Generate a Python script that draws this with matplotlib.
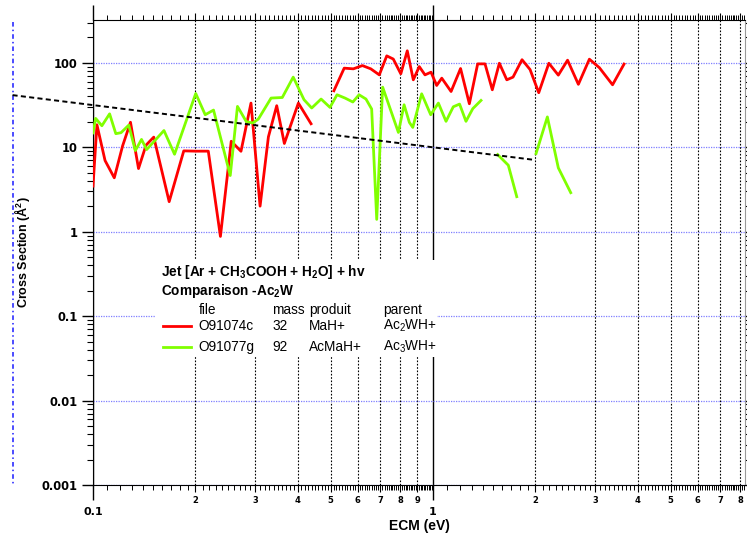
import numpy as np
import matplotlib
matplotlib.use('Agg')
import matplotlib.pyplot as plt
from matplotlib.lines import Line2D
from matplotlib.patches import Rectangle
from matplotlib.ticker import NullLocator

plt.rcParams['font.family'] = ['Liberation Sans', 'DejaVu Sans']
plt.rcParams['mathtext.default'] = 'regular'

nan = np.nan

# ---- data (ECM in eV, cross section in A^2); NaN separates segments ----
red_x = [0.100, 0.1027, 0.1085, 0.1155, 0.1222, 0.1289, 0.1361, 0.1432, 0.1509, 0.1675,
         0.1849, 0.201, 0.2183, 0.237, 0.255, 0.2724, 0.2915, 0.310, 0.328, 0.347,
         0.3654, 0.4018, 0.4378, nan,
         0.511, 0.548, 0.583, 0.620, 0.656, 0.695, 0.731, 0.764, 0.804, 0.840,
         0.875, 0.911, 0.947, 0.9865, 1.025, 1.061, 1.13, 1.205, 1.279, 1.353,
         1.422, 1.494, 1.567, 1.648, 1.719, 1.827, 1.929, 2.046, 2.191, 2.336,
         2.487, 2.676, 2.883, 3.084, 3.373, 3.646]
red_y = [3.47, 18.5, 6.97, 4.35, 10.4, 19.8, 5.6, 10.6, 13.2, 2.27,
         9.07, 9.0, 9.0, 0.88, 11.8, 8.97, 33.4, 2.01, 13.3, 31.1,
         11.1, 33.4, 19.0, nan,
         46.7, 86.6, 85.0, 92.9, 85.0, 72.1, 121, 111, 74.2, 139,
         63.0, 90.4, 72.1, 77.6, 54.0, 65.9, 45.8, 85.7, 32.8, 97.3,
         97.3, 48.0, 99.0, 63.0, 67.8, 109, 83.4, 44.3, 99.0, 71.6,
         107.6, 55.7, 110.6, 87.8, 55.0, 96.8]

green_x = [0.100, 0.1018, 0.1062, 0.1119, 0.1167, 0.1209, 0.1274, 0.1332, 0.1389, 0.1438,
           0.1617, 0.1737, 0.2005, 0.2138, 0.2262, 0.2533, 0.266, 0.2825, 0.295, 0.3064,
           0.334, 0.3603, 0.388, 0.4175, 0.4398, 0.4686, 0.4977, 0.522, 0.551, 0.581,
           0.606, 0.635, 0.660, 0.683, 0.711, 0.791, 0.822, 0.852, 0.872, 0.926,
           0.9845, 1.037, 1.092, 1.147, 1.197, 1.250, 1.309, 1.384, nan,
           1.549, 1.665, 1.763, nan,
           2.009, 2.169, 2.336, 2.541]
green_y = [14.8, 22.0, 18.0, 24.9, 14.5, 14.9, 18.3, 9.14, 12.4, 9.4,
           15.8, 8.27, 43.4, 24.3, 27.6, 4.63, 30.5, 20.1, 19.4, 21.6,
           38.3, 38.9, 67.8, 36.6, 29.2, 37.3, 29.7, 41.9, 38.3, 34.4,
           41.9, 37.3, 28.4, 1.40, 51.6, 15.0, 31.9, 19.7, 17.2, 43.0,
           24.3, 33.4, 20.3, 30.2, 32.5, 20.3, 28.7, 35.9, nan,
           8.2, 6.13, 2.6, nan,
           8.43, 22.9, 5.71, 2.9]

trend_x = [0.058, 2.0]
trend_y = [41.5, 7.07]

marker_x = [0.058, 0.058]
marker_y = [305, 0.001]

title_lines = ['Jet [Ar + CH$_3$COOH + H$_2$O] + hv', 'Comparaison -Ac$_2$W']
col_headers = ['file', 'mass', 'produit', 'parent']
legend_files = ['O91074c', 'O91077g']
legend_mass = ['32', '92']
legend_produit = ['MaH+', 'AcMaH+']
legend_parent = ['Ac$_2$WH+', 'Ac$_3$WH+']
series_colors = ['#ff0000', '#80ff00']

x_major = [0.1, 1]
x_major_labels = ['0.1', '1']
x_minor = [m * d for d in (0.1, 1) for m in range(2, 10) if m * d < 8.3]
x_minor_labels = [str(m) for d in (0.1, 1) for m in range(2, 10) if m * d < 8.3]
y_major = [0.001, 0.01, 0.1, 1, 10, 100]
y_major_labels = ['0.001', '0.01', '0.1', '1', '10', '100']

# ---- figure ----
fig = plt.figure(figsize=(7.47, 5.38), dpi=100)
ax = fig.add_axes([93 / 747, 53 / 538, 652 / 747, 465 / 538])
ax.set_xscale('log')
ax.set_yscale('log')
ax.set_xlim(0.1, 8.27)
ax.set_ylim(0.001, 322)
ax.set_axisbelow(True)

ax.plot(red_x, red_y, color=series_colors[0], lw=2.0, zorder=3)
ax.plot(green_x, green_y, color=series_colors[1], lw=2.0, zorder=3)
ax.plot(trend_x, trend_y, color='black', lw=1.4, dashes=(2.6, 1.7), zorder=4, clip_on=False)
ax.plot(marker_x, marker_y, color='#1a1aff', lw=1.1, linestyle=(0, (3, 2, 1, 2)), clip_on=False)

# ticks
ax.set_xticks(x_major, x_major_labels, fontsize=8, fontweight='bold', fontfamily='DejaVu Sans')
ax.set_xticks(x_minor, x_minor_labels, minor=True, fontsize=6, fontweight='bold', fontfamily='DejaVu Sans')
ax.tick_params(axis='x', which='major', direction='out', length=11, width=1, pad=5, top=True)
ax.tick_params(axis='x', which='minor', direction='out', length=5, width=0.8, pad=3, top=True)
ax.set_yticks(y_major, y_major_labels, fontsize=8.3, fontweight='bold', fontfamily='DejaVu Sans')
y_minor = [m * 10.0 ** e for e in range(-3, 3) for m in range(2, 10) if m * 10.0 ** e < 322]
ax.set_yticks(y_minor, minor=True)
ax.yaxis.set_minor_formatter(plt.NullFormatter())
ax.tick_params(axis='y', which='major', direction='out', length=8, width=1, pad=3, right=True)
ax.tick_params(axis='y', which='minor', direction='out', length=4, width=0.8, right=True)

# fine ticks
fine = [round(k * d, 3) for d in (0.01, 0.1) for k in range(11, 100) if k % 10 != 0]
fine = [f for f in fine if f < 8.27]
for side in ('bottom', 'top'):
    sec = ax.secondary_xaxis(side)
    sec.set_xticks(fine, [''] * len(fine))
    sec.xaxis.set_minor_locator(NullLocator())
    sec.tick_params(axis='x', which='major', direction='out', length=3.5, width=0.7)
    sec.spines[side].set_visible(False)

# grid
ax.grid(which='major', axis='y', color='#7f7fff', linestyle=(0, (1, 1)), lw=0.9)
ax.grid(which='minor', axis='x', color='black', linestyle=(0, (1.5, 1.5)), lw=0.8)
ax.grid(which='major', axis='x', color='black', linestyle='-', lw=1)

for s in ('left', 'bottom', 'top'):
    ax.spines[s].set_color('black')
ax.spines['right'].set_color('#999999')

ax.set_xlabel('ECM (eV)', fontsize=10, fontweight='bold', labelpad=1)
ax.set_ylabel('Cross Section (Å$^2$)', fontsize=9, fontweight='bold')
ax.yaxis.set_label_coords(-0.094, 0.5)

# annotation / legend table on a white background block
ax.add_patch(Rectangle((0.095, 0.275), 0.433, 0.209, transform=ax.transAxes,
                       facecolor='white', edgecolor='none', zorder=1))
fs = 9.8
tx0 = 0.1038
ax.text(tx0, 0.4587, title_lines[0], transform=ax.transAxes, fontsize=fs, fontweight='bold', va='center', zorder=5)
ax.text(tx0, 0.4178, title_lines[1], transform=ax.transAxes, fontsize=fs, fontweight='bold', va='center', zorder=5)
col_x = [0.1615, 0.275, 0.3317, 0.4452]
for cx, h in zip(col_x, col_headers):
    ax.text(cx, 0.3763, h, transform=ax.transAxes, fontsize=fs, va='center', zorder=5)
row_y = [0.342, 0.2974]
for i, ry in enumerate(row_y):
    ax.add_line(Line2D([0.1069, 0.1498], [ry, ry], transform=ax.transAxes,
                       color=series_colors[i], lw=2.0, zorder=5))
    for cx, t in zip(col_x, [legend_files[i], legend_mass[i], legend_produit[i], legend_parent[i]]):
        ax.text(cx, ry, t, transform=ax.transAxes, fontsize=fs, va='center', zorder=5)

fig.savefig('out.png', dpi=100)
